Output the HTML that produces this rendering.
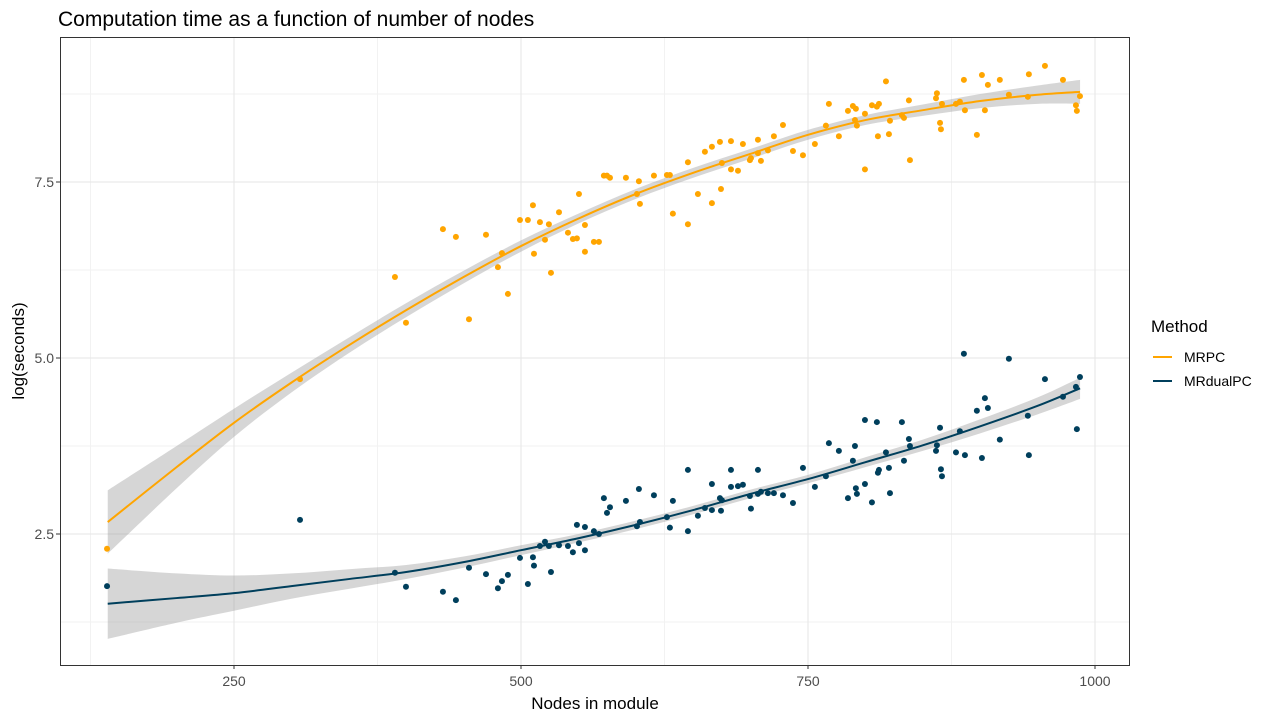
<!DOCTYPE html>
<html><head><meta charset="utf-8"><style>
body{margin:0;background:#fff;font-family:"Liberation Sans",sans-serif}
</style></head><body>
<svg id="chart" width="1275" height="721" xmlns="http://www.w3.org/2000/svg" font-family="Liberation Sans, sans-serif">
<rect width="1275" height="721" fill="#fff"/>
<text x="58" y="26" font-size="21" fill="#000">Computation time as a function of number of nodes</text>
<g id="grid"></g>
<g id="bands"></g>
<g id="points"></g>
<g id="lines"></g>
<rect x="60.5" y="37.5" width="1069" height="628" fill="none" stroke="#333" stroke-width="1"/>
<g id="axes"></g>
<text x="595" y="709" font-size="17" text-anchor="middle" fill="#000">Nodes in module</text>
<text transform="translate(24,351) rotate(-90)" font-size="17" text-anchor="middle" fill="#000">log(seconds)</text>
<g>
<text x="1151" y="332" font-size="17" fill="#000">Method</text>
<g><line x1="1153" y1="357" x2="1172" y2="357" stroke="#FFA500" stroke-width="2"/><text x="1184" y="362" font-size="14" fill="#000">MRPC</text></g>
<g><line x1="1153" y1="381" x2="1172" y2="381" stroke="#003F5C" stroke-width="2"/><text x="1184" y="386" font-size="14" fill="#000">MRdualPC</text></g>
</g>
</svg>
<script>
const nodes=[139.4,307.5,390.2,399.8,432.0,443.3,454.7,469.5,479.9,483.4,488.6,499.1,506.0,510.4,511.3,516.5,520.9,524.3,526.1,533.1,540.9,545.2,548.7,550.5,555.7,555.7,563.5,567.9,572.2,574.9,577.5,591.4,601.0,602.7,603.6,615.8,627.1,629.7,632.3,645.4,645.4,654.1,660.2,666.3,666.3,673.3,674.2,675.0,682.9,682.9,689.0,693.3,699.4,700.3,706.4,706.4,709.0,715.1,720.3,728.2,736.9,745.6,756.0,765.6,768.2,776.9,784.8,789.1,790.9,791.7,792.6,799.6,799.6,805.7,810.0,810.9,811.8,817.9,820.5,821.4,831.8,833.6,837.9,838.8,861.5,862.3,865.0,865.8,866.7,878.9,882.3,885.8,886.7,897.1,901.5,904.1,906.7,917.1,925.0,941.5,942.4,956.4,972.1,983.4,984.2,986.9];
const mrpcLog=[2.29,4.70,6.15,5.50,6.83,6.72,5.55,6.75,6.29,6.49,5.91,6.96,6.96,7.17,6.48,6.93,6.68,6.90,6.21,7.07,6.78,6.69,6.70,7.33,6.89,6.51,6.65,6.65,7.59,7.59,7.56,7.56,7.33,7.51,7.19,7.59,7.60,7.60,7.05,7.78,6.90,7.33,7.93,8.00,7.20,8.07,7.40,7.77,8.08,7.68,7.66,8.04,7.81,7.84,8.10,7.91,7.80,7.95,8.15,8.31,7.94,7.88,8.04,8.30,8.61,8.15,8.51,8.58,8.38,8.54,8.30,8.47,7.68,8.59,8.57,8.15,8.61,8.93,8.18,8.37,8.45,8.41,8.66,7.81,8.69,8.76,8.34,8.25,8.61,8.61,8.64,8.95,8.52,8.17,9.02,8.52,8.88,8.95,8.74,8.71,9.03,9.15,8.95,8.59,8.51,8.72];
const dualLog=[1.76,2.70,1.95,1.75,1.68,1.56,2.02,1.93,1.73,1.83,1.92,2.16,1.79,2.17,2.05,2.33,2.39,2.33,1.96,2.34,2.33,2.24,2.63,2.37,2.60,2.27,2.54,2.50,3.01,2.80,2.88,2.97,2.61,3.14,2.67,3.05,2.74,2.59,2.97,2.54,3.41,2.76,2.87,2.84,3.21,3.01,2.83,2.98,3.17,3.41,3.18,3.20,3.04,2.86,3.07,3.41,3.10,3.08,3.08,3.05,2.94,3.44,3.17,3.32,3.79,3.68,3.01,3.54,3.75,3.15,3.07,4.12,3.21,2.95,4.09,3.37,3.41,3.66,3.44,3.08,4.09,3.54,3.85,3.75,3.68,3.76,4.01,3.42,3.32,3.66,3.96,5.06,3.62,4.25,3.58,4.43,4.29,3.84,4.99,4.18,3.62,4.70,4.45,4.59,3.99,4.73,4.42];
const fitX=[140,200,250,300,350,400,450,500,550,600,650,700,750,800,850,900,950,987];
const mrpcFit=[2.67,3.45,4.08,4.65,5.18,5.68,6.15,6.59,6.98,7.33,7.63,7.90,8.17,8.38,8.52,8.65,8.74,8.78];
const mrpcSE=[0.45,0.30,0.20,0.14,0.11,0.10,0.09,0.08,0.07,0.07,0.07,0.07,0.07,0.07,0.08,0.10,0.13,0.17];
const dualFit=[1.51,1.59,1.66,1.76,1.86,1.96,2.10,2.27,2.44,2.63,2.84,3.07,3.28,3.52,3.76,4.03,4.32,4.57];
const dualSE=[0.50,0.35,0.25,0.18,0.14,0.10,0.08,0.07,0.06,0.06,0.06,0.06,0.06,0.07,0.08,0.10,0.12,0.15];
const xTicks=[250,500,750,1000];
const xMinor=[125,375,625,875];
const yTicks=[2.5,5.0,7.5];
const yMinor=[1.25,3.75,6.25,8.75];

const NS='http://www.w3.org/2000/svg';
const X=v=>234+(v-250)*1.148;
const Y=v=>534-(v-2.5)*70.4;
function mk(tag,attrs,parent){const e=document.createElementNS(NS,tag);for(const k in attrs)e.setAttribute(k,attrs[k]);document.getElementById(parent).appendChild(e);return e;}

xMinor.forEach(v=>{const l=mk('line',{x1:X(v),x2:X(v),y1:37,y2:665,stroke:'#f2f2f2','stroke-width':1},'grid');

});
yMinor.forEach(v=>{const l=mk('line',{x1:60,x2:1129,y1:Y(v),y2:Y(v),stroke:'#f2f2f2','stroke-width':1},'grid');

});
xTicks.forEach(v=>{const l=mk('line',{x1:X(v),x2:X(v),y1:37,y2:665,stroke:'#e5e5e5','stroke-width':1},'grid');


const t=mk('line',{x1:X(v),x2:X(v),y1:665,y2:669,stroke:'#333'},'axes');


const s=mk('text',{x:X(v),y:686,'font-size':14,'text-anchor':'middle',fill:'#4d4d4d'},'axes');s.textContent=v;

});
yTicks.forEach(v=>{const l=mk('line',{x1:60,x2:1129,y1:Y(v),y2:Y(v),stroke:'#e5e5e5','stroke-width':1},'grid');


const t=mk('line',{x1:56,x2:60,y1:Y(v),y2:Y(v),stroke:'#333'},'axes');


const s=mk('text',{x:54,y:Y(v)+5,'font-size':14,'text-anchor':'end',fill:'#4d4d4d'},'axes');s.textContent=v.toFixed(1);

});

// Catmull-Rom smoothing through screen points
function smooth(pts,start){
  let d=start?'M'+pts[0][0]+','+pts[0][1]:'L'+pts[0][0]+','+pts[0][1];
  for(let i=0;i<pts.length-1;i++){
    const p0=pts[Math.max(0,i-1)],p1=pts[i],p2=pts[i+1],p3=pts[Math.min(pts.length-1,i+2)];
    const c1=[p1[0]+(p2[0]-p0[0])/6,p1[1]+(p2[1]-p0[1])/6];
    const c2=[p2[0]-(p3[0]-p1[0])/6,p2[1]-(p3[1]-p1[1])/6];
    d+='C'+c1[0]+','+c1[1]+' '+c2[0]+','+c2[1]+' '+p2[0]+','+p2[1];
  }
  return d;
}
function band(fit,se,name){
  const up=fitX.map((x,i)=>[X(x),Y(fit[i]+se[i])]);
  const lo=fitX.map((x,i)=>[X(x),Y(fit[i]-se[i])]).reverse();
  const p=mk('path',{d:smooth(up,true)+smooth(lo,false)+'Z',fill:'#999',opacity:0.4},'bands');
  
  
}
function line(fit,color,name){
  const pts=fitX.map((x,i)=>[X(x),Y(fit[i])]);
  const p=mk('path',{d:smooth(pts,true),fill:'none',stroke:color,'stroke-width':2,'stroke-linejoin':'round'},'lines');
  
  
}
band(mrpcFit,mrpcSE,'mrpc-confidence-band');
band(dualFit,dualSE,'mrdualpc-confidence-band');
nodes.forEach((n,i)=>{
  const a=mk('circle',{cx:X(n),cy:Y(mrpcLog[i]),r:3,fill:'#FFA500'},'points');
  
  
  const b=mk('circle',{cx:X(n),cy:Y(dualLog[i]),r:3,fill:'#003F5C'},'points');
  
  
});
line(mrpcFit,'#FFA500','mrpc-trend-line');
line(dualFit,'#003F5C','mrdualpc-trend-line');
</script>
</body></html>
